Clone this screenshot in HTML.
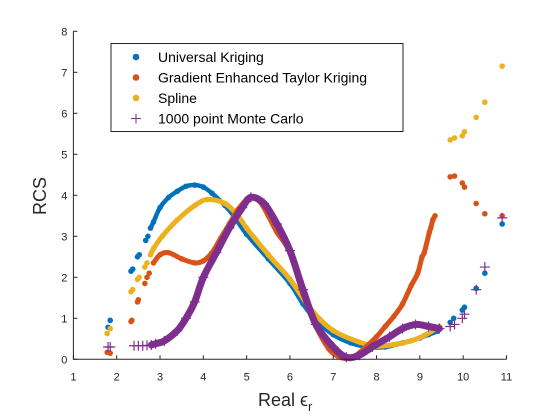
<!DOCTYPE html>
<html><head><meta charset="utf-8"><style>
body{margin:0;background:#fff;}
svg{display:block;font-family:"Liberation Sans",sans-serif;}
</style></head><body>
<svg id="chart" width="560" height="420" viewBox="0 0 560 420">
<rect x="0" y="0" width="560" height="420" fill="#fff"/>
<g id="marks"></g>
<g id="axes"></g>
<g>
<rect x="111" y="43.5" width="292" height="88" fill="#fff" stroke="#262626" stroke-width="1"/>
<circle cx="136" cy="57" r="3.3" fill="#0072BD"/>
<text x="158" y="62" font-size="14" fill="#000">Universal Kriging</text>
<circle cx="136" cy="77.5" r="3.3" fill="#D95319"/>
<text x="158" y="82.5" font-size="14" fill="#000">Gradient Enhanced Taylor Kriging</text>
<circle cx="136" cy="98" r="3.3" fill="#EDB120"/>
<text x="158" y="103" font-size="14" fill="#000">Spline</text>
<path d="M131 118.5h10M136 113.5v10" stroke="#7E2F8E" stroke-width="1"/>
<text x="158" y="123.5" font-size="14" fill="#000">1000 point Monte Carlo</text>
</g>
<text x="258" y="406" font-size="18" fill="#262626">Real ϵ<tspan font-size="13" dy="5">r</tspan></text>
<text transform="translate(46,196) rotate(-90)" text-anchor="middle" font-size="18" fill="#262626">RCS</text>
</svg>
<script>
const xTicks=[1,2,3,4,5,6,7,8,9,10,11];
const yTicks=[0,1,2,3,4,5,6,7,8];
const ukX=[1.8,1.85,2.33,2.37,2.48,2.52,2.67,2.72,2.78,2.85,3.0,3.2,3.4,3.6,3.8,4.0,4.2,4.5,4.7,5.0,5.5,6.0,6.3,6.6,7.0,7.4,7.8,8.2,8.6,9.0,9.2,9.4,9.7,9.78,9.98,10.03,10.3,10.5,10.9];
const ukY=[0.78,0.95,2.15,2.2,2.5,2.55,2.9,3.0,3.2,3.35,3.7,3.95,4.1,4.22,4.25,4.2,4.05,3.75,3.5,3.05,2.45,1.85,1.35,0.95,0.6,0.4,0.3,0.3,0.4,0.52,0.6,0.68,0.9,1.0,1.2,1.27,1.73,2.1,3.3];
const getkX=[1.78,1.85,2.33,2.35,2.48,2.5,2.65,2.7,2.75,2.85,3.0,3.2,3.5,3.8,4.0,4.2,4.4,4.6,4.8,5.0,5.1,5.3,5.5,5.7,6.0,6.3,6.6,6.9,7.1,7.3,7.5,7.7,8.0,8.2,8.4,8.6,8.8,8.95,9.05,9.1,9.22,9.25,9.3,9.35,9.7,9.8,9.98,10.03,10.3,10.5,10.9];
const getkY=[0.17,0.15,0.92,0.95,1.4,1.45,1.85,2.0,2.1,2.35,2.55,2.6,2.45,2.35,2.4,2.6,2.95,3.3,3.65,3.9,3.95,3.85,3.5,3.1,2.6,1.6,0.8,0.25,0.08,0.02,0.08,0.25,0.55,0.8,1.05,1.35,1.8,2.1,2.5,2.6,3.1,3.2,3.4,3.5,4.45,4.47,4.3,4.2,3.8,3.55,3.5];
const splX=[1.78,1.85,2.33,2.37,2.48,2.52,2.65,2.7,2.78,2.85,3.05,3.4,3.8,4.1,4.5,4.8,5.0,5.5,6.0,6.5,7.0,7.6,8.0,8.4,8.8,9.1,9.45,9.7,9.8,9.98,10.03,10.3,10.5,10.9];
const splY=[0.63,0.75,1.65,1.7,1.95,2.0,2.25,2.35,2.55,2.7,3.0,3.4,3.75,3.9,3.8,3.5,3.2,2.55,1.95,1.2,0.7,0.42,0.32,0.36,0.45,0.58,0.8,5.35,5.4,5.45,5.55,5.9,6.27,7.15];
const mcX=[1.8,1.85,2.4,2.5,2.6,2.7,2.8,2.9,3.1,3.4,3.6,3.8,4.0,4.3,4.6,4.9,5.1,5.4,5.7,6.0,6.3,6.6,7.0,7.3,7.6,7.9,8.3,8.6,8.9,9.2,9.45,9.7,9.8,9.98,10.03,10.3,10.5,10.9];
const mcY=[0.3,0.3,0.33,0.33,0.33,0.34,0.35,0.38,0.45,0.7,1.0,1.4,2.0,2.6,3.2,3.7,3.95,3.8,3.3,2.65,1.7,0.85,0.3,0.05,0.1,0.3,0.55,0.75,0.85,0.8,0.75,0.8,0.85,1.0,1.1,1.7,2.25,3.45];

const X0=73.4,X1=506.5,Y0=359.3,Y1=31.3;
const sx=v=>X0+(v-1)/10*(X1-X0);
const sy=v=>Y0-v/8*(Y0-Y1);
const NS="http://www.w3.org/2000/svg";
const marks=document.getElementById('marks'), axes=document.getElementById('axes');
function mk(tag,attrs,parent){const e=document.createElementNS(NS,tag);for(const k in attrs)e.setAttribute(k,attrs[k]);parent.appendChild(e);return e;}
function smoothPath(pts){
  let d=`M${pts[0][0]} ${pts[0][1]}`;
  for(let i=0;i<pts.length-1;i++){
    const p0=pts[Math.max(0,i-1)],p1=pts[i],p2=pts[i+1],p3=pts[Math.min(pts.length-1,i+2)];
    const c1x=p1[0]+(p2[0]-p0[0])/6,c1y=p1[1]+(p2[1]-p0[1])/6;
    const c2x=p2[0]-(p3[0]-p1[0])/6,c2y=p2[1]-(p3[1]-p1[1])/6;
    d+=`C${c1x} ${c1y} ${c2x} ${c2y} ${p2[0]} ${p2[1]}`;
  }
  return d;
}
function series(xs,ys,color,name,plus,lw){
  const g=mk('g',{},marks);
  
  
  const runs=[];let cur=null;
  for(let i=0;i<xs.length-1;i++){
    const ok=xs[i+1]-xs[i]<0.61 && Math.abs(ys[i+1]-ys[i])<1.5 && xs[i]>=2.78 && xs[i+1]<=9.46;
    if(ok){ if(!cur){cur=[[sx(xs[i]),sy(ys[i])]];runs.push(cur);} cur.push([sx(xs[i+1]),sy(ys[i+1])]); }
    else cur=null;
  }
  runs.forEach(r=>{
    const p=mk('path',{d:smoothPath(r),stroke:color,'stroke-width':lw,fill:'none','stroke-linecap':'round','stroke-linejoin':'round'},g);
    
    
  });
  for(let i=0;i<xs.length;i++){
    let e;
    if(plus){
      e=mk('path',{d:`M${sx(xs[i])-5} ${sy(ys[i])}h10M${sx(xs[i])} ${sy(ys[i])-5}v10`,stroke:color,'stroke-width':1.2,fill:'none'},g);
    } else {
      e=mk('circle',{cx:sx(xs[i]),cy:sy(ys[i]),r:2.8,fill:color},g);
    }
    
    
  }
}
series(ukX,ukY,'#0072BD','universal-kriging-series',false,4.5);
series(splX,splY,'#EDB120','spline-series',false,5);
series(getkX,getkY,'#D95319','getk-series',false,5);
series(mcX,mcY,'#7E2F8E','monte-carlo-series',true,7);

const ax=mk('path',{d:`M${X0} ${Y1}V${Y0}H${X1}`,stroke:'#262626','stroke-width':1,fill:'none'},axes);


xTicks.forEach(t=>{
  const x=sx(t);
  const tk=mk('line',{x1:x,y1:Y0,x2:x,y2:Y0-4,stroke:'#262626'},axes);
  
  
  const tx=mk('text',{x:x,y:Y0+21,'text-anchor':'middle','font-size':11,fill:'#262626'},axes);
  tx.textContent=t;
  
  
});
yTicks.forEach(t=>{
  const y=sy(t);
  const tk=mk('line',{x1:X0,y1:y,x2:X0+4,y2:y,stroke:'#262626'},axes);
  
  
  const tx=mk('text',{x:X0-6,y:y+4,'text-anchor':'end','font-size':11,fill:'#262626'},axes);
  tx.textContent=t;
  
  
});
</script>
</body></html>
